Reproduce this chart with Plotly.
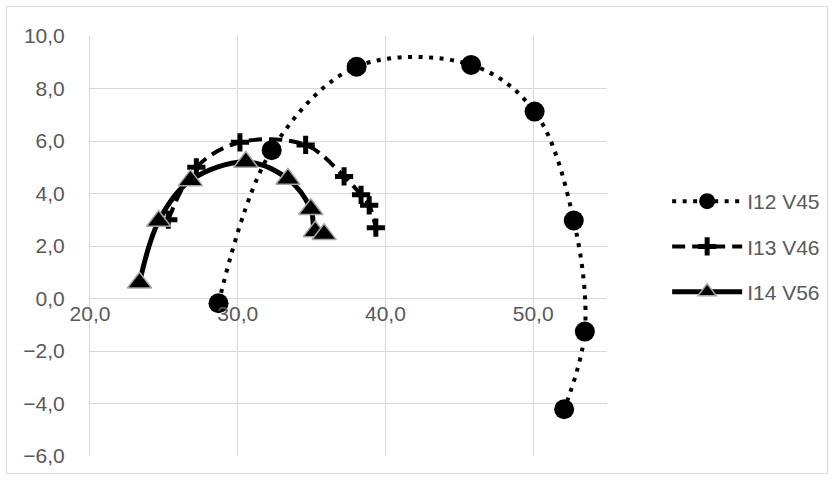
import plotly.graph_objects as go

# Data
s1_name = "I12 V45"
s1_x = [28.7, 32.3, 38.05, 45.8, 50.1, 52.75, 53.5, 52.1]
s1_y = [-0.18, 5.65, 8.83, 8.9, 7.12, 2.97, -1.26, -4.22]

s2_name = "I13 V46"
s2_x = [25.3, 27.2, 30.15, 34.6, 37.2, 38.35, 38.9, 39.35]
s2_y = [3.0, 5.0, 5.95, 5.85, 4.65, 3.95, 3.55, 2.7]

s3_name = "I14 V56"
s3_x = [23.35, 24.65, 26.8, 30.55, 33.4, 34.95, 35.25, 35.85]
s3_y = [0.6, 2.95, 4.5, 5.2, 4.55, 3.4, 2.55, 2.45]

x_ticks = [20, 30, 40, 50]
y_ticks = [-6, -4, -2, 0, 2, 4, 6, 8, 10]

FONT = "Liberation Sans"
TXT = "#595959"
GRID = "#d9d9d9"

fig = go.Figure()

fig.add_trace(go.Scatter(
    x=s1_x, y=s1_y, name=s1_name, mode="lines+markers", legendgroup="a",
    line=dict(color="black", width=4, dash="4px,6.5px", shape="spline", smoothing=1),
    marker=dict(symbol="circle", size=20, color="black"),
))
fig.add_trace(go.Scatter(
    x=s2_x, y=s2_y, name=s2_name, mode="lines+markers", legendgroup="b",
    line=dict(color="black", width=4, dash="13px,7px", shape="spline", smoothing=1),
    marker=dict(symbol="cross-thin", size=13, color="black",
                line=dict(color="black", width=5)),
))
fig.add_trace(go.Scatter(
    x=s3_x, y=s3_y, name=s3_name, mode="lines+markers", legendgroup="c",
    line=dict(color="black", width=5, shape="spline", smoothing=1),
    marker=dict(symbol="triangle-up", size=21, color="black",
                line=dict(color="#a6a6a6", width=1.5)),
))

L, R, T, B = 89.5, 609.5, 36, 456
W, H = 837, 480

fig.update_layout(
    width=W, height=H,
    margin=dict(l=L, r=W - R, t=T, b=H - B, pad=0),
    paper_bgcolor="white", plot_bgcolor="white",
    separators=", ",
    font=dict(family=FONT, size=21, color=TXT),
    showlegend=True,
    legend=dict(
        x=(670 - L) / (R - L), y=(B - 181) / (B - T),
        xanchor="left", yanchor="top",
        itemwidth=70, tracegroupgap=15,
        font=dict(family=FONT, size=21, color=TXT),
        bgcolor="rgba(0,0,0,0)",
    ),
    xaxis=dict(
        range=[20, 55], tickvals=x_ticks, tickformat=".1f",
        showgrid=True, gridcolor=GRID, gridwidth=1,
        zeroline=False, showline=False, ticks="",
        anchor="free", position=6 / 16,
        tickfont=dict(family=FONT, size=21, color=TXT),
    ),
    yaxis=dict(
        range=[-6, 10], tickvals=y_ticks, tickformat=".1f",
        showgrid=True, gridcolor=GRID, gridwidth=1,
        zeroline=True, zerolinecolor=GRID, zerolinewidth=1,
        showline=True, linecolor=GRID, linewidth=1, ticks="",
        ticklabelstandoff=20,
        tickfont=dict(family=FONT, size=21, color=TXT),
    ),
    shapes=[dict(
        type="rect", xref="paper", yref="paper", layer="below",
        x0=(5.5 - L) / (R - L), x1=(831.5 - L) / (R - L),
        y0=(B - 473.5) / (B - T), y1=(B - 6.5) / (B - T),
        line=dict(color=GRID, width=1), fillcolor="rgba(0,0,0,0)",
    )],
)

fig.write_html("out.html", config={"displayModeBar": False},
               post_script="document.body.style.margin='0';")
